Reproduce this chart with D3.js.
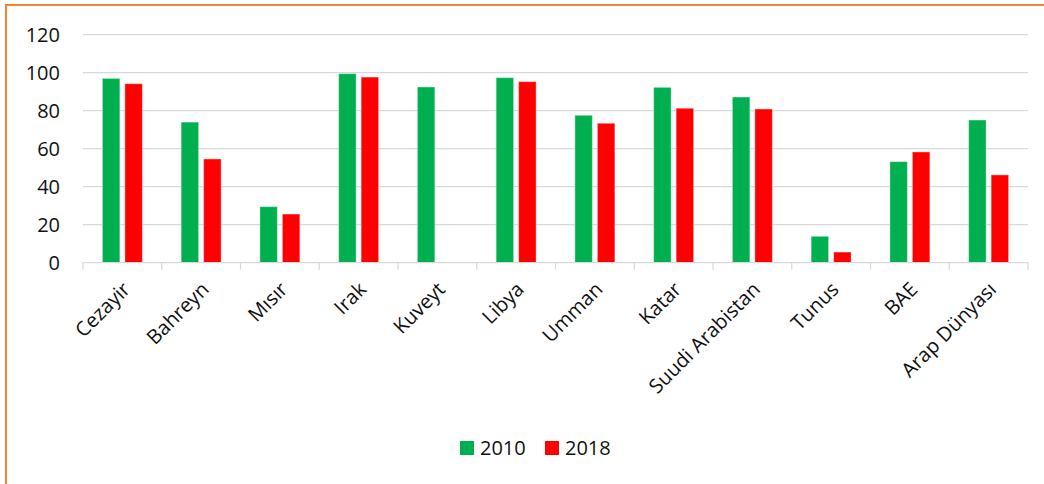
<!DOCTYPE html>
<html>
<head>
<meta charset="utf-8">
<script src="https://cdn.jsdelivr.net/npm/d3@7"></script>
<style>
  html, body { margin: 0; padding: 0; background: #fff; }
  svg { display: block; }
  text { font-family: "Open Sans", sans-serif; fill: #111; }
</style>
</head>
<body>
<svg id="chart" width="1044" height="484"></svg>
<script>
const categories = ["Cezayir", "Bahreyn", "Mısır", "Irak", "Kuveyt", "Libya", "Umman", "Katar", "Suudi Arabistan", "Tunus", "BAE", "Arap Dünyası"];
const seriesNames = ["2010", "2018"];
const values2010 = [97, 74, 29.5, 99.5, 92.5, 97.4, 77.6, 92.3, 87.2, 13.9, 53.2, 75.1];
const values2018 = [94.2, 54.6, 25.6, 97.7, 0, 95.3, 73.4, 81.3, 80.9, 5.6, 58.3, 46.2];
const yTicks = [0, 20, 40, 60, 80, 100, 120];
const colors = ["#00B050", "#FF0000"];

const svg = d3.select("#chart");
const W = 1044, H = 484;
const mLeft = 83, mRight = 1028, mTop = 34.7, mBottom = 262.7;

// Orange frame (right/bottom sides lie beyond the visible area)
svg.append("rect")
  .attr("x", 6).attr("y", 5)
  .attr("width", W + 20).attr("height", H + 20)
  .attr("fill", "none")
  .attr("stroke", "#F58232")
  .attr("stroke-width", 2);

const x = d3.scaleBand().domain(categories).range([mLeft, mRight]).padding(0);
const step = x.bandwidth();
const outerPad = (step - 40) / 2;
const xs = d3.scaleBand().domain(seriesNames).range([outerPad, outerPad + 40]).paddingInner(0.222).paddingOuter(0);
const y = d3.scaleLinear().domain([0, 120]).range([mBottom, mTop]);

// Gridlines
svg.append("g")
  .selectAll("line")
  .data(yTicks.filter(d => d > 0))
  .join("line")
  .attr("x1", mLeft).attr("x2", mRight)
  .attr("y1", d => y(d)).attr("y2", d => y(d))
  .attr("stroke", "#d9d9d9").attr("stroke-width", 1.2);

// Y axis labels
const yAxis = d3.axisLeft(y).tickValues(yTicks).tickSize(0).tickPadding(23);
const gy = svg.append("g").attr("transform", `translate(${mLeft},0)`).call(yAxis);
gy.select(".domain").remove();
gy.selectAll("text")
  .style("font-family", "'Open Sans', sans-serif")
  .style("font-size", "20px")
  .attr("fill", "#111");

// Bars
const data = categories.map((c, i) => ({ cat: c, vals: [values2010[i], values2018[i]] }));
const groups = svg.append("g").selectAll("g")
  .data(data).join("g")
  .attr("transform", d => `translate(${x(d.cat)},0)`);
groups.selectAll("rect")
  .data(d => d.vals.map((v, k) => ({ v, k })).filter(e => e.v > 0))
  .join("rect")
  .attr("x", e => xs(seriesNames[e.k]))
  .attr("width", xs.bandwidth())
  .attr("y", e => y(e.v))
  .attr("height", e => y(0) - y(e.v))
  .attr("fill", e => colors[e.k])
  .attr("stroke", "rgba(255,255,255,0.4)")
  .attr("stroke-width", 1);

// X axis line and tick marks at band boundaries
const xAxisG = svg.append("g");
xAxisG.append("line")
  .attr("x1", mLeft).attr("x2", mRight)
  .attr("y1", mBottom).attr("y2", mBottom)
  .attr("stroke", "#d9d9d9").attr("stroke-width", 1.2);
const bounds = categories.map(c => x(c)).concat([mRight]);
xAxisG.selectAll("line.tick")
  .data(bounds).join("line")
  .attr("class", "tick")
  .attr("x1", d => d).attr("x2", d => d)
  .attr("y1", mBottom).attr("y2", mBottom + 7)
  .attr("stroke", "#d9d9d9").attr("stroke-width", 1.2);

// Category labels rotated -45
svg.append("g").selectAll("text")
  .data(categories).join("text")
  .attr("transform", d => `translate(${x(d) + step / 2 + 4},${mBottom + 23}) rotate(-45)`)
  .attr("text-anchor", "end")
  .attr("dy", "0.35em")
  .style("font-size", "20px")
  .text(d => d);

// Legend
const legend = svg.append("g");
const legendItems = [{ name: seriesNames[0], x: 460 }, { name: seriesNames[1], x: 545 }];
legendItems.forEach((it, i) => {
  legend.append("rect")
    .attr("x", it.x).attr("y", 441)
    .attr("width", 14).attr("height", 14)
    .attr("fill", colors[i]);
  legend.append("text")
    .attr("x", it.x + 20).attr("y", 448)
    .attr("dy", "0.35em")
    .style("font-size", "20px")
    .text(it.name);
});
</script>
</body>
</html>
